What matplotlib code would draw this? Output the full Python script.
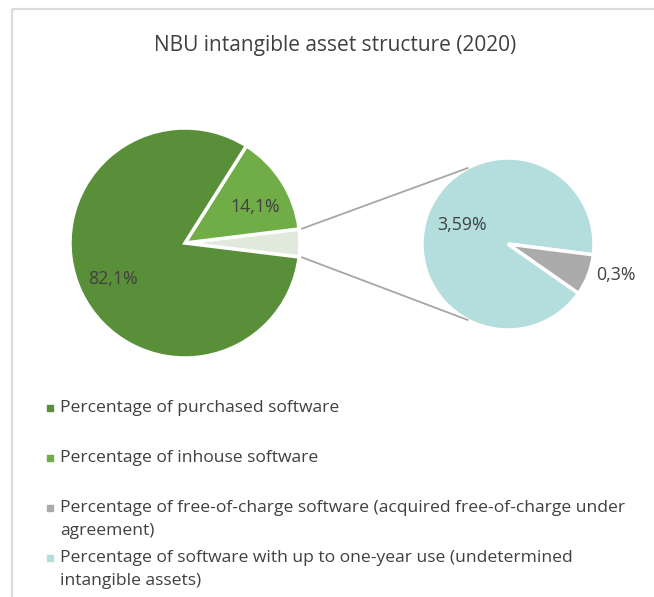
import matplotlib.pyplot as plt
import numpy as np
from matplotlib.patches import Rectangle

# Data
main_labels = ['Percentage of purchased software', 'Percentage of inhouse software', 'Other']
main_values = [82.1, 14.1, 3.89]
main_texts = ['82,1%', '14,1%', '']
main_colors = ['#5A8F3A', '#70AD47', '#E0E9DC']

sub_values = [3.59, 0.3]
sub_texts = ['3,59%', '0,3%']
sub_colors = ['#B3DEDD', '#ABABAB']

legend_labels = ['Percentage of purchased software',
                 'Percentage of inhouse software',
                 'Percentage of free-of-charge software (acquired free-of-charge under\nagreement)',
                 'Percentage of software with up to one-year use (undetermined\nintangible assets)']
legend_colors = ['#5A8F3A', '#70AD47', '#ABABAB', '#B3DEDD']

title = 'NBU intangible asset structure (2020)'

plt.rcParams['font.family'] = ['Open Sans', 'DejaVu Sans']
txt_color = '#404040'

fig = plt.figure(figsize=(6.54, 5.97), dpi=100)
ax = fig.add_axes([0, 0, 1, 1])


def reset_axes():
    # pie() resets limits, so put the pixel frame back
    ax.set_xlim(0, 654)
    ax.set_ylim(597, 0)
    ax.set_aspect('equal')
    ax.axis('off')


reset_axes()

# chart frame (cut at right/bottom)
ax.add_patch(Rectangle((12, 9), 700, 700, fill=False, edgecolor='#DCDCDC', linewidth=1.6))

ax.text(335, 45, title, ha='center', va='center', fontsize=15, color=txt_color)

# left pie, "other" slice centred on the right
# y axis is inverted, so counterclock=False runs counterclockwise on screen
c1 = (185, 243)
r1 = 115
other_span = main_values[2] / sum(main_values) * 360
order = [2, 1, 0]
ax.pie([main_values[i] for i in order], colors=[main_colors[i] for i in order],
       startangle=other_span / 2, counterclock=False, center=c1, radius=r1,
       wedgeprops=dict(edgecolor='white', linewidth=2.5), frame=True)
reset_axes()

ax.text(113, 279, main_texts[0], ha='center', va='center', fontsize=12.8, color=txt_color)
ax.text(255, 207, main_texts[1], ha='center', va='center', fontsize=12.8, color=txt_color)

# right pie
c2 = (508, 244)
r2 = 86
ax.pie(sub_values, colors=sub_colors, startangle=7.2, counterclock=False,
       center=c2, radius=r2, explode=[0, 0.07],
       wedgeprops=dict(edgecolor='white', linewidth=2.5), frame=True)
reset_axes()

ax.text(462, 225, sub_texts[0], ha='center', va='center', fontsize=12.8, color=txt_color)
ax.text(616, 275, sub_texts[1], ha='center', va='center', fontsize=12.8, color=txt_color)

# connector lines
a = np.deg2rad(other_span / 2)
a2 = np.deg2rad(118)
for s in (1, -1):
    x0 = c1[0] + (r1 + 3) * np.cos(a)
    y0 = c1[1] - s * (r1 + 3) * np.sin(a)
    x1 = c2[0] + r2 * np.cos(a2)
    y1 = c2[1] - s * r2 * np.sin(a2)
    ax.plot([x0, x1], [y0, y1], color='#A6A6A6', linewidth=1.3)

# legend
for i, (lab, col) in enumerate(zip(legend_labels, legend_colors)):
    y = 407 + 50 * i
    ax.scatter([50], [y + 1], marker='s', s=19, color=col)
    ax.text(60, y - 7, lab, ha='left', va='top', fontsize=12.6, color=txt_color, linespacing=1.62)

plt.savefig('out.png', dpi=100)
